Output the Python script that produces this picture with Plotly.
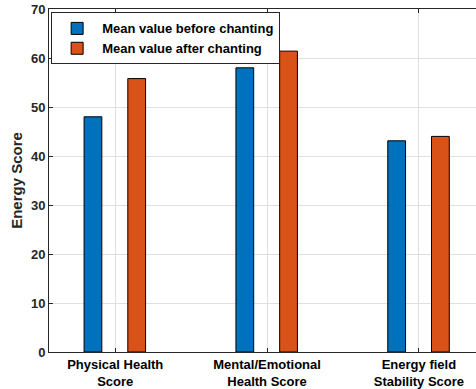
import plotly.graph_objects as go

categories = ["Physical Health<br>Score", "Mental/Emotional<br>Health Score", "Energy field<br>Stability Score"]
before = [48.0, 58.0, 43.1]
after = [55.8, 61.4, 44.0]
series_names = ["Mean value before chanting", "Mean value after chanting"]
y_ticks = [0, 10, 20, 30, 40, 50, 60, 70]

BLUE = "#0072BD"
ORANGE = "#D95319"
FONT = "Liberation Sans, Arial, sans-serif"
TICKC = "#262626"

fig = go.Figure()
fig.add_trace(go.Bar(x=categories, y=before, name=series_names[0],
                     marker=dict(color=BLUE, line=dict(color="black", width=1)),
                     width=0.117, offset=-0.205))
fig.add_trace(go.Bar(x=categories, y=after, name=series_names[1],
                     marker=dict(color=ORANGE, line=dict(color="black", width=1)),
                     width=0.117, offset=0.083))

fig.update_layout(
    width=476, height=389,
    margin=dict(l=49, r=0, t=9, b=37),
    plot_bgcolor="white", paper_bgcolor="white",
    font=dict(family=FONT, size=13, color=TICKC),
    showlegend=True,
    legend=dict(x=0.005, y=0.99, xanchor="left", yanchor="top",
                bgcolor="white", bordercolor="#262626", borderwidth=1,
                font=dict(family=FONT, size=13, color="black", weight="bold"),
                tracegroupgap=0, itemwidth=40),
    xaxis=dict(range=[-0.436, 2.376], showline=True, linecolor="#262626", linewidth=1,
               mirror="ticks", ticks="inside", ticklen=4, tickcolor="#262626",
               showgrid=True, gridcolor="#dfdfdf", gridwidth=1, automargin=False,
               tickfont=dict(family=FONT, size=13, color="black", weight="bold")),
    yaxis=dict(range=[0, 70], tickvals=y_ticks, showline=True, linecolor="#262626", linewidth=1,
               ticks="inside", ticklen=4, tickcolor="#262626", automargin=False,
               showgrid=True, gridcolor="#dfdfdf", gridwidth=1, zeroline=False,
               tickfont=dict(family=FONT, size=13, color=TICKC, weight="bold"),
               title=dict(text="Energy Score", standoff=4,
                          font=dict(family=FONT, size=15, color=TICKC, weight="bold"))),
)

fig.write_html("out.html", config={"displayModeBar": False},
               post_script="document.body.style.margin='0';")
